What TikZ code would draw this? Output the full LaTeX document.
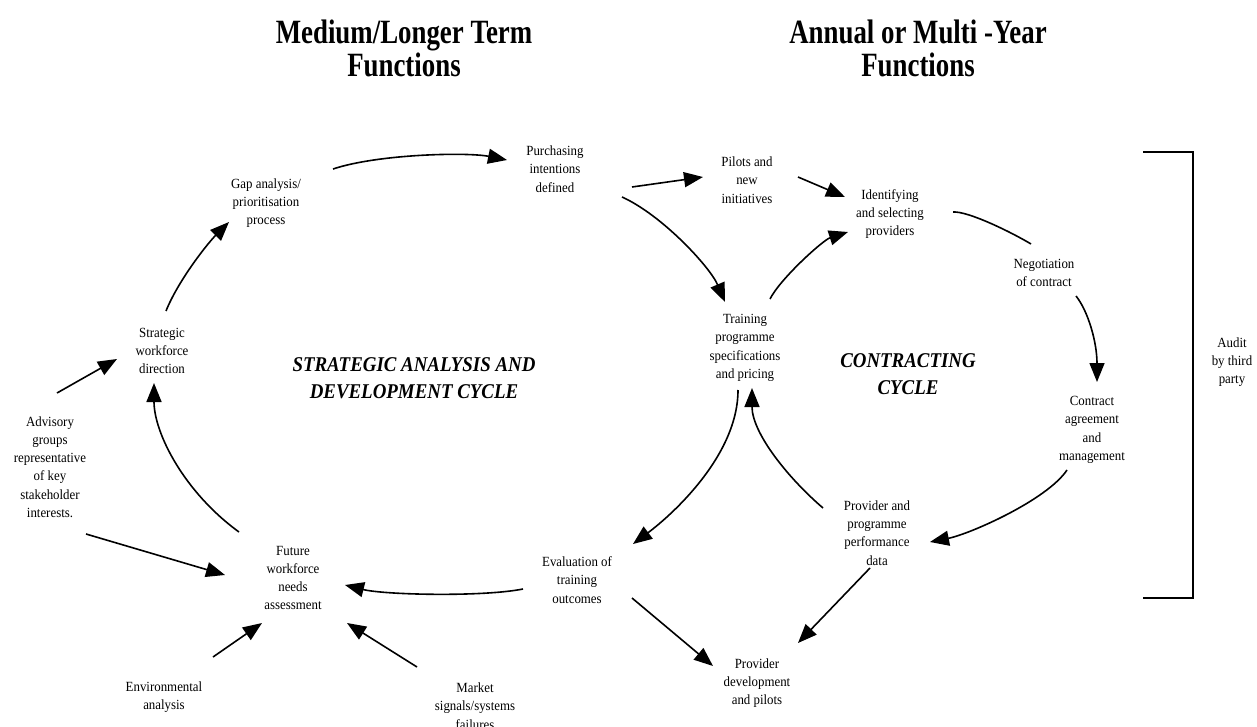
\documentclass[tikz,border=0pt]{standalone}
\usepackage{fontspec}
\setmainfont{Liberation Serif}[FakeStretch=0.92]
\newfontfamily\ttlfont{Liberation Serif}[FakeStretch=0.79]
\newfontfamily\cycfont{Liberation Serif}[FakeStretch=0.9]
\usetikzlibrary{calc,arrows.meta}
\tikzset{
  lbl/.style={align=center, font=\fontsize{14}{18.3}\selectfont, inner sep=0pt},
  ttl/.style={align=center, font=\ttlfont\fontsize{34}{33}\selectfont\bfseries, inner sep=0pt},
  cyc/.style={align=center, font=\cycfont\fontsize{21}{27}\selectfont\bfseries\itshape, inner sep=0pt},
  arr/.style={line width=1.6pt, -{Triangle[length=19pt,width=15pt]}},
  ln/.style={line width=1.6pt},
  brk/.style={line width=1.8pt}
}
\begin{document}
\begin{tikzpicture}[x=1pt,y=-1pt]
\useasboundingbox (0,0) rectangle (1257,727);
% titles
\node[ttl] (t1) at (404,48) {Medium/Longer Term\\Functions};
\node[ttl] (t2) at (918,48) {Annual or Multi -Year\\Functions};
% nodes
\node[lbl] (gap) at (266,203) {Gap analysis/\\prioritisation\\process};
\node[lbl] (purch) at (555,169) {Purchasing\\intentions\\defined};
\node[lbl] (pilots) at (747,180) {Pilots and\\new\\initiatives};
\node[lbl] (ident) at (890,214) {Identifying\\and selecting\\providers};
\node[lbl] (negot) at (1044,273) {Negotiation\\of contract};
\node[lbl] (train) at (745,348) {Training\\programme\\specifications\\and pricing};
\node[lbl] (strat) at (162,351) {Strategic\\workforce\\direction};
\node[lbl] (advis) at (50,467) {Advisory\\groups\\representative\\of key\\stakeholder\\interests.};
\node[lbl] (future) at (293,578) {Future\\workforce\\needs\\assessment};
\node[lbl] (env) at (164,697) {Environmental\\analysis};
\node[lbl] (market) at (475,706) {Market\\signals/systems\\failures};
\node[lbl] (evalu) at (577,580) {Evaluation of\\training\\outcomes};
\node[lbl] (ppd) at (877,533) {Provider and\\programme\\performance\\data};
\node[lbl] (pdev) at (757,683) {Provider\\development\\and pilots};
\node[lbl] (contract) at (1092,430) {Contract\\agreement\\and\\management};
\node[lbl] (audit) at (1232,362) {Audit\\by third\\party};
\node[cyc] (sadc) at (414,378) {STRATEGIC ANALYSIS AND\\DEVELOPMENT CYCLE};
\node[cyc] (cc) at (908,374) {CONTRACTING\\CYCLE};
% connectors
\draw[arr] ($(gap)+(67,-34)$) .. controls +(45,-15) and +(-40,-8) .. ($(purch)+(-48,-9)$);
\draw[arr] ($(strat)+(4,-40)$) .. controls +(12,-30) and +(-22,22) .. ($(gap)+(-37,19)$);
\draw[arr] ($(future)+(-54,-46)$) .. controls +(-55,-40) and +(0,50) .. ($(strat)+(-8,32)$);
\draw[arr] ($(advis)+(7,-74)$) -- ($(strat)+(-45,8)$);
\draw[arr] ($(advis)+(36,67)$) -- ($(future)+(-68,-3)$);
\draw[arr] ($(env)+(49,-40)$) -- ($(future)+(-31,45)$);
\draw[arr] ($(market)+(-58,-39)$) -- ($(future)+(54,45)$);
\draw[arr] ($(evalu)+(-54,9)$) .. controls +(-40,8) and +(40,10) .. ($(future)+(52,7)$);
\draw[arr] ($(train)+(-7,42)$) .. controls +(0,65) and +(40,-30) .. ($(evalu)+(56,-36)$);
\draw[arr] ($(ppd)+(-54,-25)$) .. controls +(-35,-30) and +(0,45) .. ($(train)+(7,40)$);
\draw[arr] ($(purch)+(67,28)$) .. controls +(40,18) and +(-15,-35) .. ($(train)+(-20,-46)$);
\draw[arr] ($(purch)+(77,18)$) -- ($(pilots)+(-44,-3)$);
\draw[arr] ($(pilots)+(51,-3)$) -- ($(ident)+(-45,-17)$);
\draw[arr] ($(train)+(25,-49)$) .. controls +(10,-20) and +(-25,8) .. ($(ident)+(-42,18)$);
\draw[ln] ($(ident)+(63,-2)$) .. controls +(15,-1) and +(-20,-12) .. ($(negot)+(-13,-29)$);
\draw[arr] ($(negot)+(32,23)$) .. controls +(12,15) and +(0,-40) .. ($(contract)+(5,-48)$);
\draw[arr] ($(contract)+(-25,40)$) .. controls +(-20,30) and +(40,-8) .. ($(ppd)+(53,9)$);
\draw[arr] ($(ppd)+(-7,35)$) -- ($(pdev)+(41,-40)$);
\draw[arr] ($(evalu)+(55,18)$) -- ($(pdev)+(-44,-17)$);
% audit bracket
\draw[brk] (1143,152) -- (1193,152) -- (1193,598) -- (1143,598);
\end{tikzpicture}
\end{document}
